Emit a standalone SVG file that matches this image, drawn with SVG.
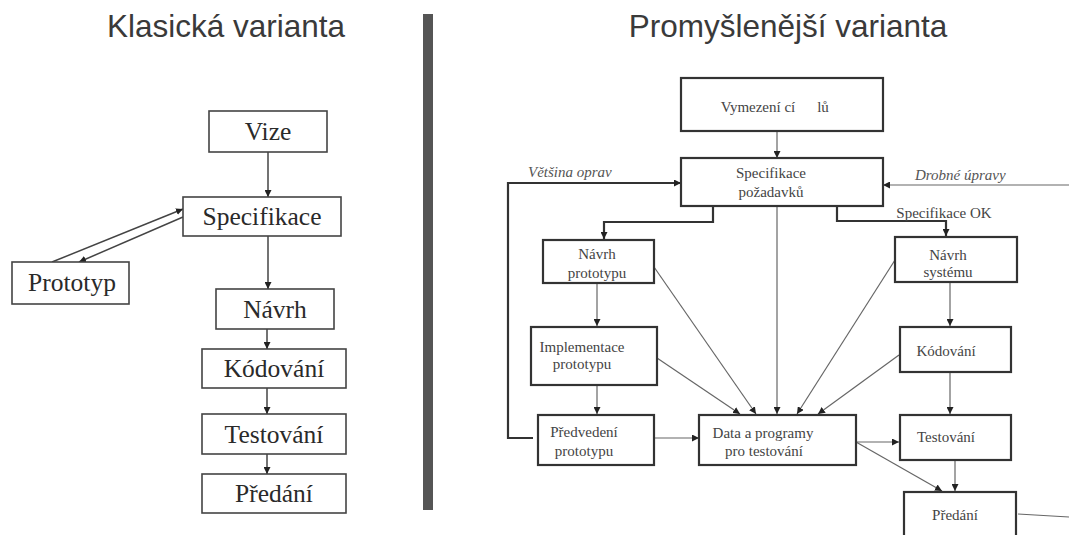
<svg xmlns="http://www.w3.org/2000/svg" width="1069" height="535" viewBox="0 0 1069 535">
  <style>
    .title { font-family: "Liberation Sans", Arial, sans-serif; font-size: 31.5px; fill: #3a3a3a; text-anchor: middle; }
    .boxL { fill: #fff; stroke: #444; stroke-width: 1.6; }
    .boxR { fill: #fff; stroke: #333; stroke-width: 2.2; }
    .lblL { font-family: "Liberation Serif", "Times New Roman", serif; font-size: 25.5px; fill: #2a2a2a; text-anchor: middle; }
    .lblR { font-family: "Liberation Serif", "Times New Roman", serif; font-size: 15px; fill: #444; text-anchor: middle; }
    .note { font-family: "Liberation Serif", "Times New Roman", serif; font-size: 15px; font-style: italic; fill: #555; }
    .edgeL { fill: none; stroke: #444; stroke-width: 1.5; }
    .edge { fill: none; stroke: #666; stroke-width: 1.2; }
    .edgeB { fill: none; stroke: #333; stroke-width: 2.2; }
  </style>
  <defs>
    <marker id="arr" viewBox="0 0 10 10" refX="10" refY="5" markerWidth="7" markerHeight="7" markerUnits="userSpaceOnUse" orient="auto">
      <path d="M0,0 L10,5 L0,10 z" fill="#222"/>
    </marker>
  </defs>
  <rect width="1069" height="535" fill="#fff"/>

  <!-- headings and divider -->
  <text class="title" x="226" y="37">Klasická varianta</text>
  <text class="title" x="788" y="37">Promyšlenější varianta</text>
  <rect x="423" y="14" width="10" height="496" fill="#555"/>

  <!-- connectors -->
  <g id="connectors">
    <!-- classic flow -->
    <line class="edgeL" x1="268" y1="152" x2="268" y2="197" marker-end="url(#arr)"/>
    <line class="edgeL" x1="52" y1="262" x2="183" y2="209" marker-end="url(#arr)"/>
    <line class="edgeL" x1="183" y1="217" x2="79" y2="262" marker-end="url(#arr)"/>
    <line class="edgeL" x1="268" y1="236" x2="268" y2="289" marker-end="url(#arr)"/>
    <line class="edgeL" x1="267" y1="329" x2="267" y2="349" marker-end="url(#arr)"/>
    <line class="edgeL" x1="267" y1="388" x2="267" y2="414" marker-end="url(#arr)"/>
    <line class="edgeL" x1="267" y1="454" x2="267" y2="474" marker-end="url(#arr)"/>

    <!-- refined flow -->
    <line class="edge" x1="777" y1="131" x2="777" y2="158" marker-end="url(#arr)"/>
    <polyline class="edgeB" points="533,438 508,438 508,183 681,183" marker-end="url(#arr)"/>
    <line class="edge" x1="1069" y1="185" x2="883" y2="185" marker-end="url(#arr)"/>
    <polyline class="edgeB" points="713,206 713,222 604,222 604,239" marker-end="url(#arr)"/>
    <polyline class="edgeB" points="837,206 837,221 946,221 946,236" marker-end="url(#arr)"/>
    <line class="edge" x1="777" y1="206" x2="777" y2="414" marker-end="url(#arr)"/>
    <line class="edge" x1="597" y1="283" x2="597" y2="326" marker-end="url(#arr)"/>
    <line class="edge" x1="597" y1="385" x2="597" y2="414" marker-end="url(#arr)"/>
    <line class="edge" x1="654" y1="267" x2="756" y2="414" marker-end="url(#arr)"/>
    <line class="edge" x1="657" y1="358" x2="740" y2="414" marker-end="url(#arr)"/>
    <line class="edge" x1="895" y1="260" x2="797" y2="414" marker-end="url(#arr)"/>
    <line class="edge" x1="899" y1="355" x2="818" y2="414" marker-end="url(#arr)"/>
    <line class="edge" x1="654" y1="438" x2="699" y2="438" marker-end="url(#arr)"/>
    <line class="edge" x1="950" y1="282" x2="950" y2="326" marker-end="url(#arr)"/>
    <line class="edge" x1="950" y1="372" x2="950" y2="414" marker-end="url(#arr)"/>
    <line class="edge" x1="856" y1="442" x2="899" y2="442" marker-end="url(#arr)"/>
    <line class="edge" x1="856" y1="442" x2="942" y2="491" marker-end="url(#arr)"/>
    <line class="edge" x1="955" y1="460" x2="955" y2="491" marker-end="url(#arr)"/>
    <line class="edge" x1="1018" y1="514" x2="1069" y2="517"/>
  </g>

  <!-- labels on connectors -->
  <text class="note" x="528" y="177">Většina oprav</text>
  <text class="note" x="915" y="180">Drobné úpravy</text>
  <text class="lblR" x="944" y="218" font-size="14.5">Specifikace OK</text>

  <!-- classic nodes -->
  <g id="vize"><rect class="boxL" x="209" y="111" width="118" height="41"/><text class="lblL" x="268" y="140">Vize</text></g>
  <g id="specifikace"><rect class="boxL" x="183" y="197" width="158" height="39"/><text class="lblL" x="262" y="225">Specifikace</text></g>
  <g id="prototyp"><rect class="boxL" x="12" y="262" width="117" height="42"/><text class="lblL" x="72" y="291">Prototyp</text></g>
  <g id="navrh"><rect class="boxL" x="216" y="289" width="118" height="40"/><text class="lblL" x="275" y="318">Návrh</text></g>
  <g id="kodovani"><rect class="boxL" x="202" y="349" width="144" height="39"/><text class="lblL" x="274" y="377">Kódování</text></g>
  <g id="testovani"><rect class="boxL" x="202" y="414" width="144" height="40"/><text class="lblL" x="274" y="443">Testování</text></g>
  <g id="predani"><rect class="boxL" x="202" y="474" width="144" height="39"/><text class="lblL" x="274" y="502">Předání</text></g>

  <!-- refined nodes -->
  <g id="vymezeni-cilu"><rect class="boxR" x="681" y="78" width="202" height="53"/>
    <text class="lblR" x="758" y="112">Vymezení cí</text><text class="lblR" x="823" y="112">lů</text></g>
  <g id="specifikace-pozadavku"><rect class="boxR" x="681" y="158" width="202" height="48"/>
    <text class="lblR" x="771" y="178">Specifikace</text><text class="lblR" x="771" y="197">požadavků</text></g>
  <g id="navrh-prototypu"><rect class="boxR" x="543" y="240" width="111" height="43"/>
    <text class="lblR" x="597" y="259">Návrh</text><text class="lblR" x="597" y="278">prototypu</text></g>
  <g id="implementace-prototypu"><rect class="boxR" x="531" y="327" width="126" height="58"/>
    <text class="lblR" x="582" y="352">Implementace</text><text class="lblR" x="582" y="369">prototypu</text></g>
  <g id="predvedeni-prototypu"><rect class="boxR" x="538" y="415" width="116" height="50"/>
    <text class="lblR" x="584" y="437">Předvedení</text><text class="lblR" x="584" y="456">prototypu</text></g>
  <g id="data-a-programy"><rect class="boxR" x="699" y="415" width="157" height="50"/>
    <text class="lblR" x="763" y="438">Data a programy</text><text class="lblR" x="764" y="456">pro testování</text></g>
  <g id="navrh-systemu"><rect class="boxR" x="895" y="237" width="122" height="45"/>
    <text class="lblR" x="948" y="260">Návrh</text><text class="lblR" x="948" y="277">systému</text></g>
  <g id="kodovani-r"><rect class="boxR" x="900" y="327" width="111" height="45"/>
    <text class="lblR" x="946" y="356">Kódování</text></g>
  <g id="testovani-r"><rect class="boxR" x="900" y="415" width="111" height="45"/>
    <text class="lblR" x="946" y="442">Testování</text></g>
  <g id="predani-r"><rect class="boxR" x="904" y="492" width="112" height="50"/>
    <text class="lblR" x="955" y="520">Předání</text></g>
</svg>
